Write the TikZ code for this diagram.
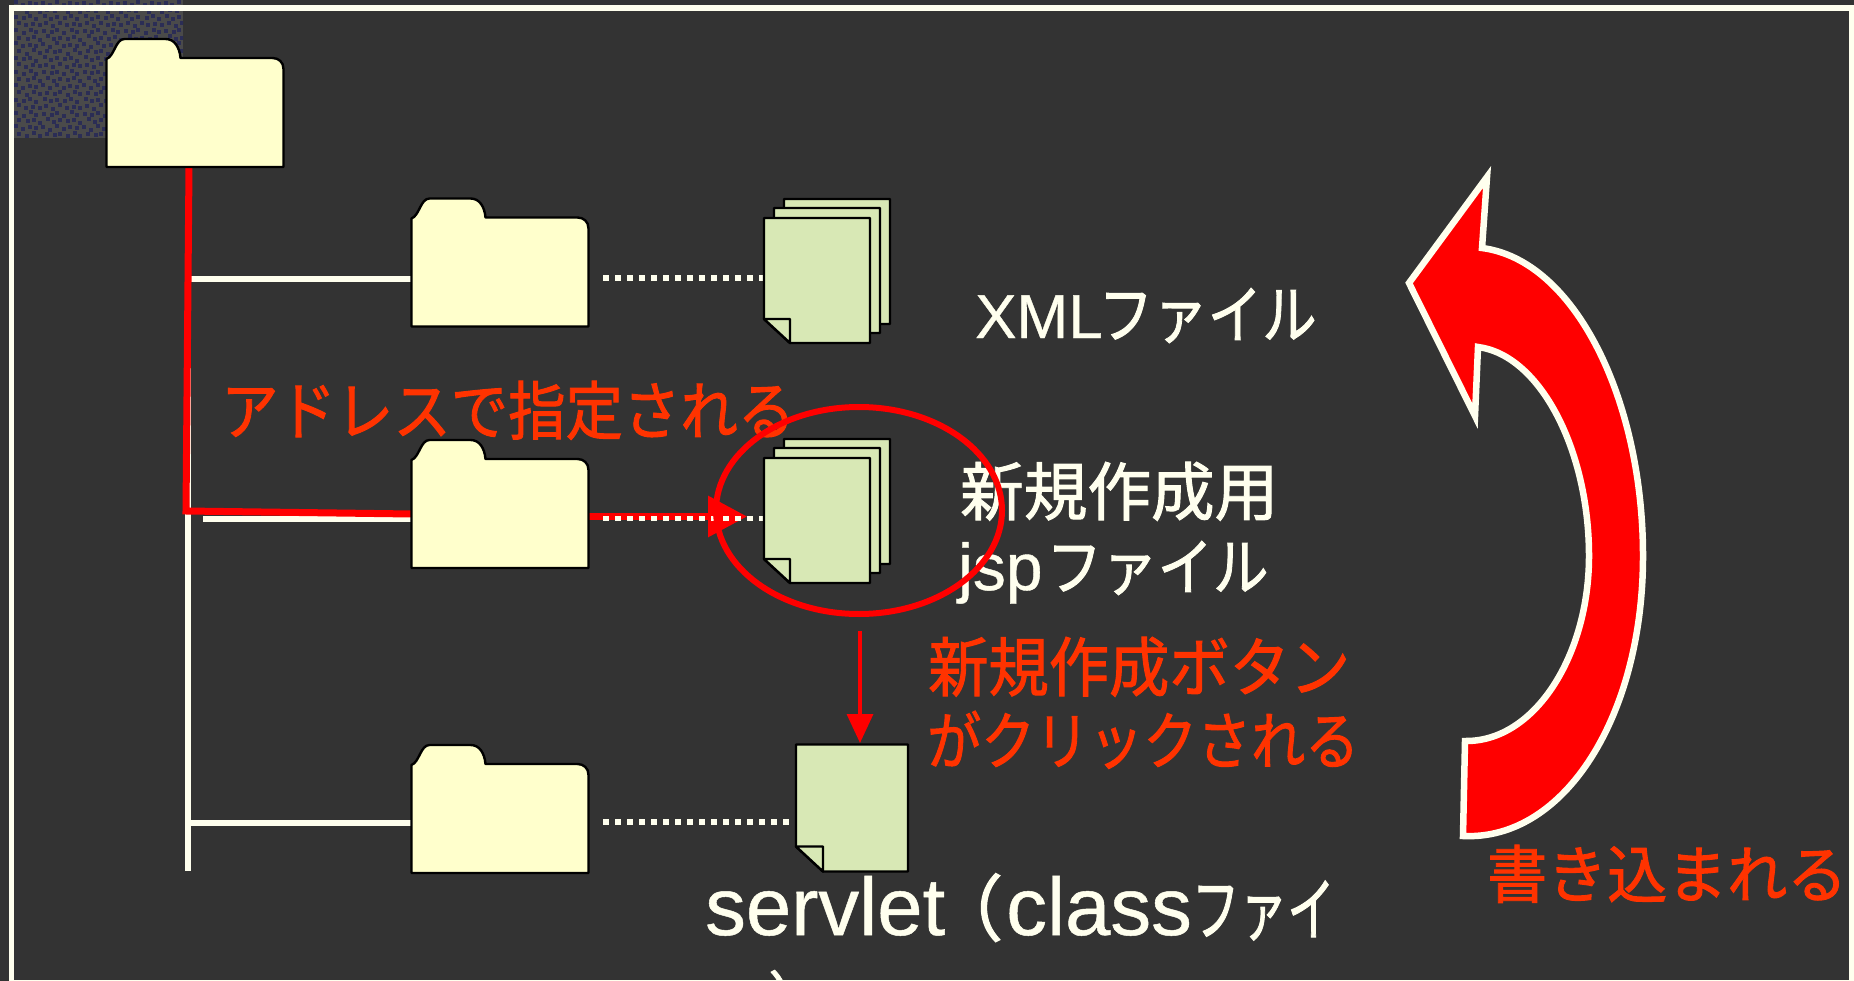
\documentclass[tikz,border=0pt]{standalone}
\usepackage{fontspec}
\usepackage{graphicx}
\setmainfont[RawFeature={embolden=0.6}]{Liberation Sans}
\newfontfamily\cjk[RawFeature={embolden=1.5}]{Noto Sans CJK JP}
\usetikzlibrary{arrows.meta,calc}
\definecolor{bgc}{HTML}{333333}
\definecolor{cream}{HTML}{FFFFEE}
\definecolor{folderc}{HTML}{FFFFCC}
\definecolor{docc}{HTML}{D8E8B5}
\definecolor{redc}{HTML}{FF0000}
\definecolor{txtred}{HTML}{FF3300}
\definecolor{patbg}{HTML}{4A4A4A}
\definecolor{patdot}{HTML}{2B2D55}
% fit #3 (Japanese) to width #1 and total height #2, in pt
\newcommand{\jfit}[3]{\resizebox*{#1pt}{#2pt}{\fontsize{50}{50}\selectfont\cjk #3}}
\newcommand{\lat}[2]{{\fontsize{#1}{#1}\selectfont #2}}
\tikzset{
  x=1pt,y=-1pt,
  folderbox/.style={anchor=north west,minimum width=177pt,minimum height=128pt,inner sep=0pt,outer sep=0pt},
  docbox/.style={anchor=north west,minimum width=106pt,minimum height=125pt,inner sep=0pt,outer sep=0pt},
  singlebox/.style={anchor=north west,minimum width=112pt,minimum height=127pt,inner sep=0pt,outer sep=0pt},
  treeline/.style={draw=cream,line width=5.5pt},
  redline/.style={draw=redc,line width=7pt,line join=miter},
  dotline/.style={draw=cream,line width=5.5pt,dash pattern=on 6pt off 6pt},
  whitetxt/.style={text=cream,anchor=south west,inner sep=0pt},
  redtxt/.style={text=txtred,anchor=south west,inner sep=0pt},
  shapeline/.style={draw=black,line width=2.4pt,line join=round},
  folder/.pic={
    \path[shapeline,fill=folderc] (0,128) -- (177,128) -- (177,30)
      .. controls (177,23) and (172,19) .. (166,19) -- (74,19)
      .. controls (73,8) and (68,0) .. (59,0) -- (18,0)
      .. controls (9,0) and (8,17) .. (0,20) -- cycle;
  },
  paper/.pic={
    \path[shapeline,fill=docc] (0,101) -- (26,125) -- (106,125) -- (106,0) -- (0,0) -- cycle;
    \path[shapeline,fill=docc] (0,101) -- (26,101) -- (26,125) -- cycle;
  },
  stack/.pic={
    \pic at (20,-19) {paper};
    \pic at (10,-10) {paper};
    \pic at (0,0) {paper};
  },
  singlepaper/.pic={
    \path[shapeline,fill=docc] (0,102) -- (27,127) -- (112,127) -- (112,0) -- (0,0) -- cycle;
    \path[shapeline,fill=docc] (0,102) -- (27,102) -- (27,127) -- cycle;
  }
}
\begin{document}
\begin{tikzpicture}
\useasboundingbox (0,0) rectangle (1854,981);
\fill[bgc] (0,0) rectangle (1854,981);
% speckled patch
\fill[patbg] (14,0) rectangle (183,138);
\begin{scope}
\clip (14,0) rectangle (183,138);
\foreach \i in {0,...,25}{
  \foreach \j in {0,...,20}{
    \pgfmathsetmacro{\dx}{14+\i*6.8+mod(\j,2)*3.2+mod(\i*\j,3)*0.8}
    \pgfmathsetmacro{\dy}{\j*6.9+mod(\i,2)*2.2+mod(\i+\j,3)*0.6}
    \fill[patdot] (\dx,\dy) rectangle ++(4,4);
  }
}
\end{scope}
% frame
\draw[cream,line width=5.5pt] (11.5,8) rectangle (1851.5,983);
% anchors
\node[folderbox] (f1) at (106.5,39) {};
\node[folderbox] (f2) at (411.5,198.5) {};
\node[folderbox] (f3) at (411.5,440) {};
\node[folderbox] (f4) at (411.5,745) {};
\node[docbox] (d1) at (764,218) {};
\node[docbox] (d2) at (764,458) {};
\node[singlebox] (d3) at (796,744.5) {};
\coordinate (toptrunk) at (188,262);
\coordinate (bottrunk) at (188,871);
\coordinate (j1) at (188,279);
\coordinate (j2) at (203,519);
\coordinate (j3) at (188,823);
\coordinate (rstart) at (189,167);
\coordinate (corner) at (186,511);
\coordinate (rend) at (412,514);
\coordinate (ry) at (589,516.5);
\coordinate (rtip) at (747,516.5);
\coordinate (dashA) at (603,278);
\coordinate (dashB) at (603,518.5);
\coordinate (dashC) at (603,822);
\coordinate (downstart) at (860,631);
\coordinate (downend) at (860,743);
% tree
\draw[treeline] (toptrunk) -- (bottrunk);
\draw[treeline] (j1) -- (j1 -| f2.west);
\draw[treeline] (j2) -- (j2 -| f3.west);
\draw[treeline] (j3) -- (j3 -| f4.west);
% red route
\draw[redline] (rstart) -- (corner) -- (rend);
% red arrow and dots
\draw[draw=redc,line width=6.5pt,-{Triangle[length=39pt,width=40pt]}] (ry) -- (rtip);
\draw[dotline] (dashA) -- (d1.west |- dashA);
\draw[dotline] (dashB) -- (d2.west |- dashB);
\draw[dotline] (dashC) -- (d3.west |- dashC);
% folders
\pic at (f1.north west) {folder};
\pic at (f2.north west) {folder};
\pic at (f3.north west) {folder};
\pic at (f4.north west) {folder};
% documents
\pic at (d1.north west) {stack};
\pic at (d2.north west) {stack};
\pic at (d3.north west) {singlepaper};
% down arrow
\draw[draw=redc,line width=3.5pt,-{Triangle[length=29pt,width=26pt]}] (downstart) -- (downend);
% big arrow
\draw[draw=cream,fill=redc,line width=6.5pt,miter limit=10]
  (1409,283) -- (1487,177) -- (1482,248)
  .. controls (1575,260) and (1643,400) .. (1643,556)
  .. controls (1643,715) and (1565,841) .. (1463,836)
  -- (1465,741)
  .. controls (1535,742) and (1589,655) .. (1589,556)
  .. controls (1589,450) and (1540,355) .. (1478,347)
  -- (1475,416) -- cycle;
% texts
\node[whitetxt,anchor=base west] (t1) at (975,338) {\lat{62}{XML}\hspace{-4pt}\jfit{218}{55}{ファイル}};
\node[redtxt] (t2) at (221,440) {\jfit{574}{59}{アドレスで指定される}};
\node[whitetxt] (t3) at (960,521) {\jfit{318}{59}{新規作成用}};
\node[whitetxt,anchor=base west] (t4) at (958,590) {\lat{66}{jsp}\hspace{4pt}\jfit{222}{54}{ファイル}};
\node[redtxt] (t5) at (928,697) {\jfit{422}{60}{新規作成ボタン}};
\node[redtxt] (t6) at (927,769) {\jfit{432}{58}{がクリックされる}};
\node[redtxt] (t7) at (1487,903) {\jfit{360}{58}{書き込まれる}};
\node[whitetxt,anchor=base west] (t8) at (705,935) {\lat{81.5}{servlet}\hspace{-14pt}{\fontsize{72}{72}\selectfont\cjk （}\hspace{3pt}\lat{81.5}{class}\jfit{143}{60}{ファイ}};
\begin{scope}
\clip (0,0) rectangle (1854,980);
\node[whitetxt,anchor=north west] (t9) at (768,970) {\fontsize{62}{62}\selectfont\cjk ）};
\end{scope}
% ellipse
\draw[redc,line width=6pt] (859,510.5) ellipse [x radius=143,y radius=103.5];
\end{tikzpicture}
\end{document}
